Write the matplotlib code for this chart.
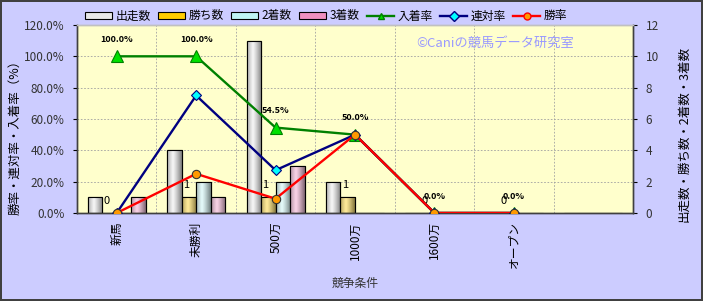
import numpy as np
import matplotlib
matplotlib.use('Agg')
import matplotlib.pyplot as plt
from matplotlib.patches import Rectangle
from matplotlib.lines import Line2D
from matplotlib.colors import to_rgb

plt.rcParams['font.family'] = ['Noto Sans CJK JP', 'DejaVu Sans']

# データ
categories = ['新馬', '未勝利', '500万', '1000万', '1600万', 'オープン', '']
starts = [1, 4, 11, 2, 0, 0, 0]       # 出走数
wins = [0, 1, 1, 1, 0, 0, 0]          # 勝ち数
seconds = [0, 2, 2, 0, 0, 0, 0]       # 2着数
thirds = [1, 1, 3, 0, 0, 0, 0]        # 3着数
show_rate = [100.0, 100.0, 54.5, 50.0, 0.0, 0.0]   # 入着率
top2_rate = [0.0, 75.0, 27.3, 50.0, 0.0, 0.0]      # 連対率
win_rate = [0.0, 25.0, 9.1, 50.0, 0.0, 0.0]        # 勝率

bar_series = [('出走数', starts, '#E8E8E8'),
              ('勝ち数', wins, '#FFCC00'),
              ('2着数', seconds, '#BFF5F5'),
              ('3着数', thirds, '#F090C0')]
line_series = [('入着率', show_rate, '#008000', '^', '#00E000', 8),
               ('連対率', top2_rate, '#000080', 'D', '#00FFFF', 5),
               ('勝率', win_rate, '#FF0000', 'o', '#FF9900', 6)]

fig = plt.figure(figsize=(7.03, 3.01), dpi=100)
fig.patch.set_facecolor('#CCCCFF')
fig.patch.set_edgecolor('#404040')
fig.patch.set_linewidth(1.5)

axb = fig.add_axes([0.1095, 0.2924, 0.791, 0.6246])
axb.set_facecolor('#FFFFCC')
axl = axb.twinx()

x = np.arange(len(categories))
w = 0.183


def shade(color, n=32):
    # 円柱風のグラデーション
    base = np.array(to_rgb(color))
    t = np.linspace(0, 1, n)
    f = 1 - 0.6 * np.abs(t - 0.4) ** 1.2 / 0.6 ** 1.2
    img = np.empty((1, n, 3))
    for i in range(3):
        hi = base[i] + (1 - base[i]) * 0.6
        img[0, :, i] = np.clip(hi * f + base[i] * 0.2 * (1 - f), 0, 1)
    return img


for k, (name, vals, col) in enumerate(bar_series):
    pos = x + (k - 1.5) * w
    bars = axb.bar(pos, vals, w, color=col, edgecolor='black', linewidth=0.8, zorder=2)
    img = shade(col)
    for b in bars:
        if b.get_height() <= 0:
            continue
        x0, y0 = b.get_x(), b.get_y()
        im = axb.imshow(img, extent=[x0, x0 + b.get_width(), y0, y0 + b.get_height()],
                        aspect='auto', zorder=2.5, interpolation='bilinear')
        im.set_clip_path(b)
        edge = Rectangle((x0, y0), b.get_width(), b.get_height(), fill=False,
                         edgecolor='black', linewidth=0.8, zorder=3)
        axb.add_patch(edge)

# 勝ち数ラベル
for i in range(6):
    axb.text(x[i] - 0.5 * w, wins[i] + 0.45, str(wins[i]), ha='right', va='bottom',
             fontsize=8, color='black', zorder=4)

axb.set_xlim(-0.5, 6.5)
axb.set_ylim(0, 12)
axb.set_yticks(range(0, 13, 2))
axb.yaxis.tick_right()
axb.yaxis.set_label_position('right')
axb.set_xticks(x)
axb.set_xticklabels(categories, rotation=90, fontsize=8.5, va='top')
axb.set_xticks(np.arange(-0.5, 7, 1), minor=True)
axb.grid(True, which='minor', axis='x', color='#A0A0A0', linestyle=(0, (2, 2)), linewidth=0.6, zorder=0)
axb.grid(True, which='major', axis='y', color='#A0A0A0', linestyle=(0, (2, 2)), linewidth=0.6, zorder=0)
axb.set_axisbelow(True)
axb.tick_params(axis='x', which='both', length=0, pad=6)
axb.tick_params(axis='y', length=3, labelsize=8.5, labelcolor='#333333', pad=6)
axb.set_ylabel('出走数・勝ち数・2着数・3着数', fontsize=9, rotation=90)
axb.yaxis.set_label_coords(1.08, 0.42)
axb.set_xlabel('競争条件', fontsize=8.5, color='#333333', labelpad=6)

for name, vals, col, mk, mfc, ms in line_series:
    axl.plot(x[:len(vals)], vals, color=col, linewidth=1.7, marker=mk, markersize=ms,
             markerfacecolor=mfc, markeredgecolor=col if mk != 'o' else '#333333',
             markeredgewidth=0.8, zorder=5)

for i, v in enumerate(show_rate):
    axl.annotate(f'{v:.1f}%', (x[i], v), xytext=(0, 12), textcoords='offset points',
                 ha='center', va='center', fontsize=6.5, fontweight='bold')

axl.set_ylim(0, 120)
axl.set_yticks(range(0, 121, 20))
axl.set_yticklabels([f'{v:.1f}%' for v in range(0, 121, 20)])
axl.yaxis.tick_left()
axl.yaxis.set_label_position('left')
axl.tick_params(axis='y', length=3, labelsize=8.5, labelcolor='#333333', pad=6)
axl.set_ylabel('勝率・連対率・入着率（%）', fontsize=9)
axl.yaxis.set_label_coords(-0.1, 0.42)

for a in (axb, axl):
    for s in a.spines.values():
        s.set_color('#404040')
        s.set_linewidth(1)
    a.spines['top'].set_color('#C0C0C0')

axb.text(0.752, 0.9, '©Caniの競馬データ研究室', transform=axb.transAxes, ha='center',
         va='center', fontsize=9.5, color='#9999FF', zorder=6)

handles = [Rectangle((0, 0), 1, 1, facecolor=c, edgecolor='black', linewidth=0.8)
           for _, _, c in bar_series]
handles += [Line2D([], [], color=c, linewidth=1.7, marker=mk, markersize=5,
                   markerfacecolor=mfc, markeredgecolor=c)
            for _, _, c, mk, mfc, _ in line_series]
labels = [s[0] for s in bar_series] + [s[0] for s in line_series]
fig.legend(handles, labels, loc='center', bbox_to_anchor=(0.464, 0.947), ncol=7,
           frameon=False, fontsize=8.5, handlelength=2.3, handleheight=0.5,
           handletextpad=0.3, columnspacing=0.6)

fig.savefig('out.png', dpi=100, facecolor=fig.get_facecolor(), edgecolor=fig.get_edgecolor())
